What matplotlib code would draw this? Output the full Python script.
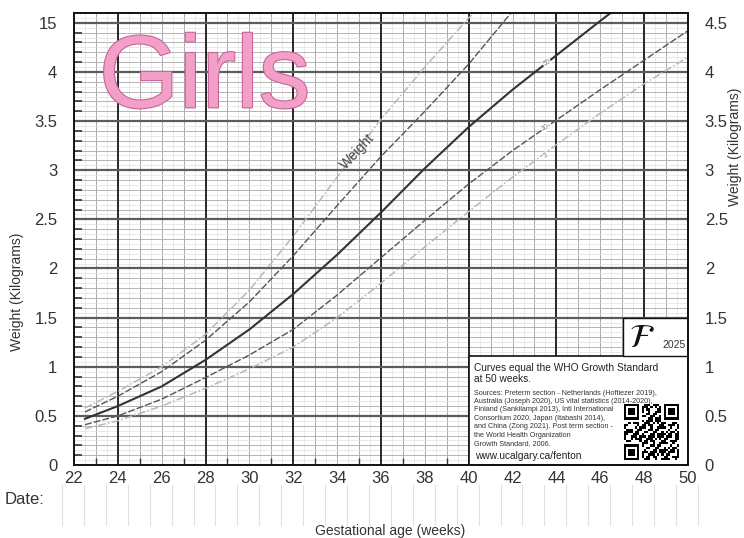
import numpy as np
import matplotlib
matplotlib.use("Agg")
import matplotlib.pyplot as plt
import matplotlib.patheffects as pe
from matplotlib.patches import Rectangle
import matplotlib.transforms as mtransforms

plt.rcParams['font.family'] = ['Liberation Sans', 'DejaVu Sans']

# gestational age (weeks) and weight percentiles (kg)
weeks = [22.5, 24, 26, 28, 30, 32, 34, 36, 38, 40, 42, 44, 46, 48, 50]
p97 = [0.58, 0.75, 1.00, 1.33, 1.78, 2.33, 2.93, 3.52, 4.05, 4.55, 5.00, None, None, None, None]
p90 = [0.54, 0.70, 0.95, 1.27, 1.66, 2.13, 2.64, 3.14, 3.60, 4.08, 4.62, 5.10, None, None, None]
p50 = [0.47, 0.60, 0.80, 1.07, 1.38, 1.74, 2.14, 2.57, 3.02, 3.44, 3.82, 4.17, 4.52, 4.86, 5.15]
p10 = [0.41, 0.50, 0.67, 0.89, 1.12, 1.38, 1.73, 2.11, 2.49, 2.86, 3.20, 3.51, 3.82, 4.12, 4.42]
p3 = [0.37, 0.45, 0.60, 0.78, 0.98, 1.20, 1.50, 1.85, 2.22, 2.58, 2.93, 3.26, 3.58, 3.88, 4.15]

x_ticks = list(range(22, 51, 2))
y_ticks = [0, 0.5, 1, 1.5, 2, 2.5, 3, 3.5, 4, 4.5]
left_labels = ["0", "0.5", "1", "1.5", "2", "2.5", "3", "3.5", "4", "15"]
right_labels = ["0", "0.5", "1", "1.5", "2", "2.5", "3", "3.5", "4", "4.5"]

sources = ["Sources: Preterm section - Netherlands (Hoftiezer 2019),",
           "Australia (Joseph 2020), US vital statistics (2014-2020),",
           "Finland (Sankilampi 2013), Intl International",
           "Consortium 2020, Japan (Itabashi 2014),",
           "and China (Zong 2021). Post term section -",
           "the World Health Organization",
           "Growth Standard, 2006."]
url = "www.ucalgary.ca/fenton"

fig = plt.figure(figsize=(7.44, 5.38), dpi=100)
ax = fig.add_axes([74 / 744, 73 / 538, 614 / 744, 452 / 538])
xmin, xmax, ymin, ymax = 22, 50, 0, 4.6

# grid
for w in np.arange(22.5, 50, 1.0):
    ax.axvline(w, color='#e2e2e2', lw=0.5, zorder=1)
for w in range(23, 50):
    ax.axvline(w, color='#a8a8a8', lw=0.7, zorder=1)
for w in range(24, 50, 4):
    ax.axvline(w, color='#1a1a1a', lw=1.3, zorder=2)
for k in np.arange(0.05, 4.6, 0.1):
    ax.axhline(k, color='#e0e0e0', lw=0.5, zorder=1)
for k in np.arange(0.1, 4.6, 0.1):
    ax.axhline(k, color='#b4b4b4', lw=0.7, zorder=1)
for k in np.arange(0.5, 4.6, 0.5):
    ax.axhline(k, color='#5c5c5c', lw=1.6, zorder=2)

# curves
def series(vals):
    pts = [(w, v) for w, v in zip(weeks, vals) if v is not None]
    return [p[0] for p in pts], [p[1] for p in pts]

ax.plot(*series(p97), color='#b8b8b8', lw=1.1, ls=(0, (5, 1.5, 1, 1.5)), zorder=4)
ax.plot(*series(p3), color='#b8b8b8', lw=1.1, ls=(0, (5, 1.5, 1, 1.5)), zorder=4)
ax.plot(*series(p90), color='#555555', lw=1.0, ls=(0, (5, 1.5)), zorder=4)
ax.plot(*series(p10), color='#555555', lw=1.0, ls=(0, (5, 1.5)), zorder=4)
ax.plot(*series(p50), color='#333333', lw=1.5, zorder=5)

lab_kw = dict(fontsize=5, color='#777777', ha='center', va='center', rotation=30, zorder=6,
              bbox=dict(facecolor='white', edgecolor='none', pad=0.3))
ax.text(43.57, 4.09, "50", **lab_kw)
ax.text(43.48, 3.43, "10", **lab_kw)
ax.text(43.52, 3.15, "3", **lab_kw)
ax.text(34.95, 3.19, "Weight", fontsize=10, color='#444444', rotation=47,
        ha='center', va='center', zorder=6)

# big title
ax.text(23.14, 3.64, "Girls", fontsize=74, color='#f2a0c8', ha='left', va='baseline', zorder=6,
        path_effects=[pe.withStroke(linewidth=1.6, foreground='#c8649a')])

# info box
ax.add_patch(Rectangle((40, 0), 10, 1.105, facecolor='white', edgecolor='#111111', lw=1.2, zorder=7))
ax.add_patch(Rectangle((47.05, 1.105), 2.95, 0.39, facecolor='white', edgecolor='#111111', lw=1.0, zorder=7))
ax.text(40.24, 0.956, "Curves equal the WHO Growth Standard", fontsize=7.3, color='#222222', zorder=8)
ax.text(40.24, 0.846, "at 50 weeks.", fontsize=7.3, color='#222222', zorder=8)
for i, line in enumerate(sources):
    ax.text(40.24, 0.715 - i * 0.085, line, fontsize=5.2, color='#333333', zorder=8)
ax.text(40.3, 0.06, url, fontsize=7.3, color='#222222', zorder=8)
ax.text(47.9, 1.29, r"$\mathcal{F}$", fontsize=24, color='#111111', ha='center', va='center', zorder=8)
ax.text(49.37, 1.225, "2025", fontsize=7.5, color='#333333', ha='center', va='center', zorder=8)

# QR-style block built from the URL bytes
n = 25
bits = np.unpackbits(np.frombuffer((url * 40).encode(), dtype=np.uint8))[:n * n].reshape(n, n)
qr = bits.astype(float)
for r0, c0 in [(0, 0), (0, n - 7), (n - 7, 0)]:
    qr[max(r0 - 1, 0):r0 + 8, max(c0 - 1, 0):c0 + 8] = 0
    qr[r0:r0 + 7, c0:c0 + 7] = 1
    qr[r0 + 1:r0 + 6, c0 + 1:c0 + 6] = 0
    qr[r0 + 2:r0 + 5, c0 + 2:c0 + 5] = 1
ax.imshow(qr, cmap='gray_r', extent=(47.08, 49.55, 0.05, 0.61), aspect='auto',
          interpolation='nearest', zorder=8)

# axes styling
ax.set_xlim(xmin, xmax)
ax.set_ylim(ymin, ymax)
ax.set_xticks(x_ticks)
ax.set_xticklabels([str(t) for t in x_ticks], fontsize=12, color='#333333')
ax.set_yticks(y_ticks)
ax.set_yticklabels(left_labels, fontsize=12, color='#333333')
ax.tick_params(axis='both', which='major', length=0, pad=4)
ax.tick_params(axis='y', pad=12)
ax.set_yticks(np.arange(0.1, 4.6, 0.1), minor=True)
ax.set_xticks(range(23, 50), minor=True)
ax.tick_params(axis='y', which='minor', direction='in', length=6, width=1.2, color='#333333',
               left=True, right=True)
ax.tick_params(axis='x', which='minor', direction='in', length=5, width=1.0, color='#333333')
for s in ax.spines.values():
    s.set_color('#111111')
    s.set_linewidth(1.4)
    s.set_zorder(9)

ax2 = ax.twinx()
ax2.set_ylim(ymin, ymax)
ax2.set_yticks(y_ticks)
ax2.set_yticklabels(right_labels, fontsize=12, color='#333333')
ax2.tick_params(axis='y', length=0, pad=12)
for s in ax2.spines.values():
    s.set_visible(False)

# date row
trans = mtransforms.blended_transform_factory(ax.transData, ax.transAxes)
for w in np.arange(21.45, 50.6, 1.0):
    ax.plot([w, w], [-0.044, -0.133], color='#e0e0e0', lw=0.8, transform=trans, clip_on=False)

fig.text(5 / 744, 1 - 500 / 538, "Date:", fontsize=12, color='#333333', va='center', ha='left')
fig.text(390 / 744, 1 - 531 / 538, "Gestational age (weeks)", fontsize=10, color='#333333',
         va='center', ha='center')
fig.text(17 / 744, 1 - 292 / 538, "Weight (Kilograms)", fontsize=10, color='#333333',
         rotation=90, va='center', ha='center')
fig.text(735 / 744, 1 - 147 / 538, "Weight (Kilograms)", fontsize=10, color='#333333',
         rotation=90, va='center', ha='center')

fig.savefig("out.png", dpi=100)
